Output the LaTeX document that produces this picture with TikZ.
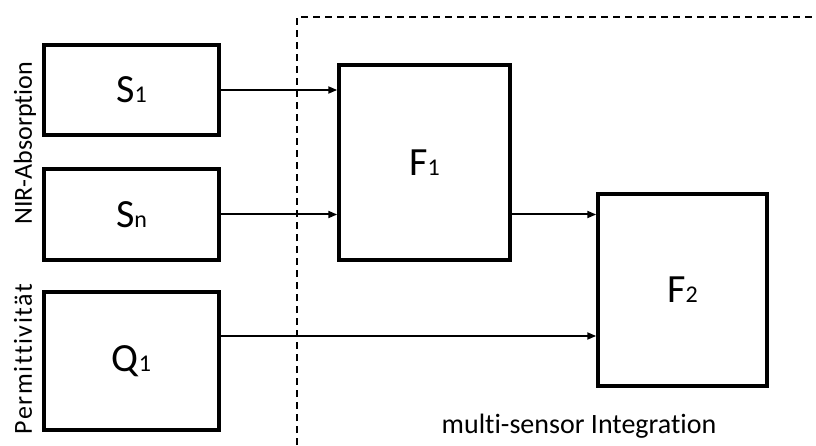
\documentclass[tikz,border=0pt]{standalone}
\usepackage{fontspec}
\setmainfont{Carlito}[Ligatures=NoCommon]
\usetikzlibrary{arrows.meta}

\newcommand{\blocktext}[2]{{\fontsize{40}{40}\selectfont #1}{\fontsize{24}{24}\selectfont #2}}

\tikzset{
  block/.style={draw, line width=3.5pt, inner sep=0pt, minimum width=175pt},
  sidelabel/.style={rotate=90, anchor=base, font=\fontsize{26}{26}\selectfont},
  link/.style={line width=2pt, -{Triangle[length=9pt,width=7pt]}},
  groupline/.style={line width=2.3pt, dash pattern=on 7pt off 5pt}
}

\begin{document}
\begin{tikzpicture}[x=1pt,y=1pt]
\useasboundingbox (0,0) rectangle (816,445);
% integration area
\draw[groupline] (297,0) -- (297,428) -- (816,428);
\node[font=\fontsize{28}{28}\selectfont, anchor=base] (integ) at (579,12) {multi-sensor Integration};

% sensors
\node[block, minimum height=90pt] (S1) at (131.5,355) {\blocktext{S}{1}};
\node[block, minimum height=91pt] (Sn) at (131.5,230.5) {\blocktext{S}{n}};
\node[block, minimum height=138pt] (Q1) at (131.5,84) {\blocktext{Q}{1}};
\node[sidelabel] (nir) at (32,301.5) {NIR-Absorption};
\node[sidelabel] (perm) at (32,86) {\addfontfeatures{LetterSpace=6}Permittivität};

% fusion
\node[block, minimum width=171pt, minimum height=195pt] (F1) at (424.5,282.5) {\blocktext{F}{1}};
\node[block, minimum width=169pt, minimum height=192pt] (F2) at (682.5,155) {\blocktext{F}{2}};

\draw[link] (S1.east) -- (S1.east -| F1.west);
\draw[link] (Sn.east) -- (Sn.east -| F1.west);
\draw[link] (Sn.east -| F1.east) -- (Sn.east -| F2.west);
\draw[link] ([yshift=25pt]Q1.east) -- ([yshift=25pt]Q1.east -| F2.west);
\end{tikzpicture}
\end{document}
